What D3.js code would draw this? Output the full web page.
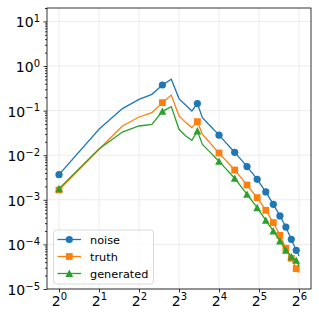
<!DOCTYPE html>
<html>
<head>
<meta charset="utf-8">
<script src="https://cdn.jsdelivr.net/npm/d3@7/dist/d3.min.js"></script>
<style>
  body { margin: 0; background: #fff; }
  text { font-family: "DejaVu Sans", sans-serif; }
</style>
</head>
<body>
<div id="chart"></div>
<script>
// wave numbers 1..64
const xValues = [1, 2, 3, 4, 5, 6, 7, 8, 9, 10, 11, 12, 13, 14, 15, 16,
  17, 18, 19, 20, 21, 22, 23, 24, 25, 26, 27, 28, 29, 30, 31, 32,
  33, 34, 35, 36, 37, 38, 39, 40, 41, 42, 43, 44, 45, 46, 47, 48,
  49, 50, 51, 52, 53, 54, 55, 56, 57, 58, 59, 60, 61, 62, 63, 64];

const noise = [3.67e-3, 3.81e-2, 0.111, 0.179, 0.232, 0.375, 0.504, 0.186,
  0.132, 0.098, 0.144, 0.0697, 0.0542, 0.0430, 0.0346, 0.0282,
  0.0232, 0.0192, 0.0161, 0.0136, 0.0116, 9.95e-3, 8.51e-3, 7.35e-3,
  6.38e-3, 5.55e-3, 4.83e-3, 4.22e-3, 3.70e-3, 3.27e-3, 2.88e-3, 2.51e-3,
  2.19e-3, 1.92e-3, 1.69e-3, 1.50e-3, 1.31e-3, 1.15e-3, 1.01e-3, 8.95e-4,
  7.93e-4, 7.00e-4, 6.19e-4, 5.50e-4, 4.88e-4, 4.34e-4, 3.85e-4, 3.43e-4,
  3.05e-4, 2.74e-4, 2.45e-4, 2.15e-4, 1.88e-4, 1.66e-4, 1.47e-4, 1.30e-4,
  1.15e-4, 1.03e-4, 9.18e-5, 8.24e-5, 7.38e-5, 6.68e-5, 6.07e-5, 5.50e-5];

const truth = [1.66e-3, 1.355e-2, 4.52e-2, 7.19e-2, 9.02e-2, 0.151, 0.224, 0.0757,
  0.0538, 0.0416, 0.0566, 0.0294, 0.0225, 0.0175, 0.0139, 0.0112,
  9.20e-3, 7.66e-3, 6.43e-3, 5.45e-3, 4.66e-3, 3.94e-3, 3.34e-3, 2.86e-3,
  2.47e-3, 2.15e-3, 1.87e-3, 1.63e-3, 1.43e-3, 1.26e-3, 1.12e-3, 9.75e-4,
  8.53e-4, 7.48e-4, 6.59e-4, 5.82e-4, 5.11e-4, 4.47e-4, 3.94e-4, 3.48e-4,
  3.08e-4, 2.70e-4, 2.36e-4, 2.07e-4, 1.82e-4, 1.60e-4, 1.39e-4, 1.21e-4,
  1.06e-4, 9.29e-5, 8.18e-5, 7.35e-5, 6.61e-5, 5.96e-5, 5.38e-5, 4.88e-5,
  4.36e-5, 3.92e-5, 3.52e-5, 3.18e-5, 2.86e-5, 2.67e-5, 2.49e-5, 2.33e-5];

const generated = [1.78e-3, 1.38e-2, 3.31e-2, 4.52e-2, 4.93e-2, 9.64e-2, 0.123, 3.81e-2,
  2.69e-2, 2.16e-2, 3.49e-2, 1.75e-2, 1.37e-2, 1.10e-2, 8.87e-3, 7.29e-3,
  6.00e-3, 4.99e-3, 4.19e-3, 3.55e-3, 3.03e-3, 2.54e-3, 2.13e-3, 1.81e-3,
  1.54e-3, 1.33e-3, 1.14e-3, 9.95e-4, 8.67e-4, 7.59e-4, 6.68e-4, 5.81e-4,
  5.08e-4, 4.46e-4, 3.93e-4, 3.47e-4, 3.09e-4, 2.75e-4, 2.47e-4, 2.22e-4,
  2.00e-4, 1.79e-4, 1.61e-4, 1.46e-4, 1.32e-4, 1.19e-4, 1.08e-4, 9.77e-5,
  8.87e-5, 8.07e-5, 7.38e-5, 6.90e-5, 6.44e-5, 6.04e-5, 5.66e-5, 5.32e-5,
  5.12e-5, 4.92e-5, 4.73e-5, 4.56e-5, 4.40e-5, 3.99e-5, 3.61e-5, 3.28e-5];

const seriesNames = ['noise', 'truth', 'generated'];
const seriesColors = ['#1f77b4', '#ff7f0e', '#2ca02c'];
const seriesMarkers = ['circle', 'square', 'triangle'];

// tick exponents
const xTickExp = [0, 1, 2, 3, 4, 5, 6];
const yTickExp = [-5, -4, -3, -2, -1, 0, 1];

const W = 319, H = 319;
const margin = { left: 47, top: 8, right: 8, bottom: 30 };
const MARK_EVERY = 5;

const svg = d3.select('#chart').append('svg')
	.attr('width', W)
	.attr('height', H);

const x = d3.scaleLog().base(2)
	.domain([Math.pow(2, -0.3), Math.pow(2, 6.3)])
	.range([margin.left, W - margin.right]);
const y = d3.scaleLog()
	.domain([1e-5, 20])
	.range([H - margin.bottom, margin.top]);

// grid
const grid = svg.append('g').attr('class', 'grid');
grid.selectAll('line.gx')
	.data(xTickExp)
	.enter().append('line')
		.attr('x1', d => x(Math.pow(2, d)))
		.attr('x2', d => x(Math.pow(2, d)))
		.attr('y1', margin.top)
		.attr('y2', H - margin.bottom)
		.attr('stroke', '#e6e6e6')
		.attr('stroke-width', 0.8);
grid.selectAll('line.gy')
	.data(yTickExp)
	.enter().append('line')
		.attr('x1', margin.left)
		.attr('x2', W - margin.right)
		.attr('y1', d => y(Math.pow(10, d)))
		.attr('y2', d => y(Math.pow(10, d)))
		.attr('stroke', '#e6e6e6')
		.attr('stroke-width', 0.8);

// axes
const xAxis = d3.axisBottom(x)
	.tickValues(xTickExp.map(e => Math.pow(2, e)))
	.tickSize(3.5)
	.tickFormat('');
const gx = svg.append('g')
	.attr('transform', 'translate(0,' + (H - margin.bottom) + ')')
	.call(xAxis);

// minor ticks on y (2..9 x 10^k)
const yMinor = [];
yTickExp.forEach(e => {
	for (let k = 2; k <= 9; k++) {
		const v = k * Math.pow(10, e);
		if (v <= 20) yMinor.push(v);
	}
});
const yAxisMinor = d3.axisLeft(y).tickValues(yMinor).tickSize(2).tickFormat('');
svg.append('g')
	.attr('transform', 'translate(' + margin.left + ',0)')
	.call(yAxisMinor);

const yAxis = d3.axisLeft(y)
	.tickValues(yTickExp.map(e => Math.pow(10, e)))
	.tickSize(3.5)
	.tickFormat('');
const gy = svg.append('g')
	.attr('transform', 'translate(' + margin.left + ',0)')
	.call(yAxis);

svg.selectAll('.domain').remove();
svg.selectAll('.tick line').attr('stroke', '#000').attr('stroke-width', 0.8);

// tick labels with superscripts
gx.selectAll('.tick').each(function(d, i) {
	const t = d3.select(this).append('text')
		.attr('y', 17)
		.attr('text-anchor', 'middle')
		.attr('fill', '#000')
		.style('font-size', '14px');
	t.append('tspan').text('2');
	t.append('tspan').attr('dy', -6).style('font-size', '10px').text(String(xTickExp[i]));
});
gy.selectAll('.tick').each(function(d, i) {
	const e = yTickExp[i];
	const t = d3.select(this).append('text')
		.attr('x', -7)
		.attr('y', 5.5)
		.attr('text-anchor', 'end')
		.attr('fill', '#000')
		.style('font-size', '14px');
	t.append('tspan').text('10');
	t.append('tspan').attr('dy', -5.5).style('font-size', '10px')
		.text(e < 0 ? '\u2212' + Math.abs(e) : String(e));
});

// frame
svg.append('rect')
	.attr('x', margin.left)
	.attr('y', margin.top)
	.attr('width', W - margin.left - margin.right)
	.attr('height', H - margin.top - margin.bottom)
	.attr('fill', 'none')
	.attr('stroke', '#000')
	.attr('stroke-width', 0.8);

// marker helper
function drawMarker(g, type, cx, cy, color) {
	if (type === 'circle') {
		g.append('circle').attr('cx', cx).attr('cy', cy).attr('r', 3.6).attr('fill', color);
	} else if (type === 'square') {
		g.append('rect').attr('x', cx - 3.4).attr('y', cy - 3.4)
			.attr('width', 6.8).attr('height', 6.8).attr('fill', color);
	} else {
		const s = 3.9;
		g.append('path')
			.attr('d', 'M' + cx + ',' + (cy - s) + 'L' + (cx + s) + ',' + (cy + s * 0.9) + 'L' + (cx - s) + ',' + (cy + s * 0.9) + 'Z')
			.attr('fill', color);
	}
}

// series
const allSeries = [noise, truth, generated];
const line = d3.line()
	.x(d => x(d[0]))
	.y(d => y(d[1]));

const plot = svg.append('g');
allSeries.forEach((vals, si) => {
	const pts = xValues.map((xv, i) => [xv, vals[i]]);
	const g = plot.append('g');
	g.append('path')
		.datum(pts)
		.attr('d', line)
		.attr('fill', 'none')
		.attr('stroke', seriesColors[si])
		.attr('stroke-width', 1.3);
	pts.forEach((p, i) => {
		if (i % MARK_EVERY === 0) {
			drawMarker(g, seriesMarkers[si], x(p[0]), y(p[1]), seriesColors[si]);
		}
	});
});

// legend
const legend = svg.append('g').attr('transform', 'translate(53.5,230)');
legend.append('rect')
	.attr('width', 100)
	.attr('height', 54)
	.attr('rx', 3)
	.attr('fill', '#fff')
	.attr('fill-opacity', 0.8)
	.attr('stroke', '#d0d0d0')
	.attr('stroke-width', 0.8);
seriesNames.forEach((name, i) => {
	const ry = 9.5 + i * 17;
	legend.append('line')
		.attr('x1', 4).attr('x2', 27.5)
		.attr('y1', ry).attr('y2', ry)
		.attr('stroke', seriesColors[i])
		.attr('stroke-width', 1.3);
	drawMarker(legend, seriesMarkers[i], 15.8, ry, seriesColors[i]);
	legend.append('text')
		.attr('x', 36.5)
		.attr('y', ry + 4)
		.attr('fill', '#000')
		.style('font-size', '11.3px')
		.text(name);
});
</script>
</body>
</html>
